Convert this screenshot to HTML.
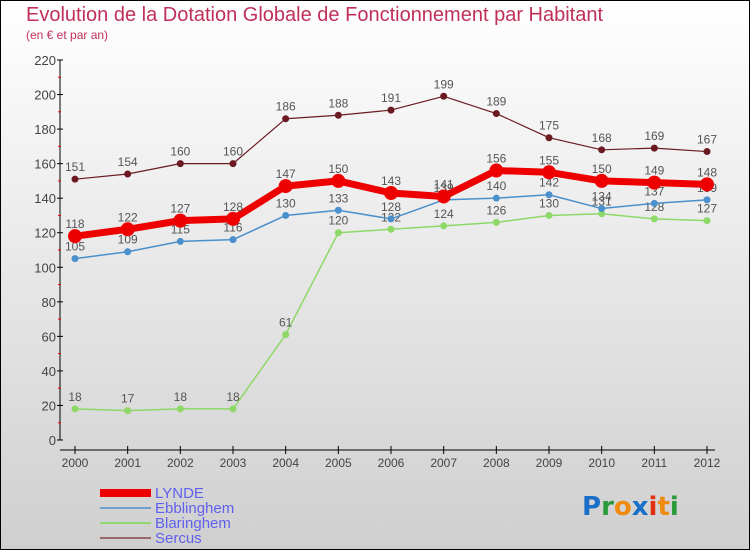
<!DOCTYPE html>
<html><head><meta charset="utf-8"><style>
html,body{margin:0;padding:0}
body{width:750px;height:550px;overflow:hidden;font-family:"Liberation Sans",sans-serif}
#wrap{position:absolute;left:0;top:0;width:748px;height:548px;border:1px solid #000;background:linear-gradient(#ffffff,#cfcfcf)}
</style></head><body>
<div id="wrap">
<svg id="chart" width="750" height="550" style="position:absolute;left:-1px;top:-1px">
<text x="26" y="21" font-size="20" fill="#c0305a">Evolution de la Dotation Globale de Fonctionnement par Habitant</text>
<text x="26" y="39" font-size="12" fill="#c0305a">(en € et par an)</text>
<g id="axes"></g><g id="series"></g>
<g>
<rect x="100" y="489" width="51" height="8" fill="#ee0000"/>
<text x="155" y="498" font-size="15" fill="#6060ee">LYNDE</text>
<rect x="100" y="507" width="51" height="2" fill="#6fa0cc"/>
<text x="155" y="513" font-size="15" fill="#6060ee">Ebblinghem</text>
<rect x="100" y="522" width="51" height="2" fill="#90d870"/>
<text x="155" y="528" font-size="15" fill="#6060ee">Blaringhem</text>
<rect x="100" y="537" width="51" height="2" fill="#9a6a6a"/>
<text x="155" y="543" font-size="15" fill="#6060ee">Sercus</text>
</g>
<g font-size="26" font-weight="bold" font-family="'DejaVu Sans',sans-serif">
<text x="582" y="515"><tspan fill="#1a70c8">P</tspan><tspan fill="#2a9a3a">r</tspan><tspan fill="#f08a10">o</tspan><tspan fill="#1a70c8">x</tspan><tspan fill="#e03010">i</tspan><tspan fill="#f08a10">t</tspan><tspan fill="#2a9a3a">i</tspan></text>
</g>
</svg>
</div>
<script>
const years=[2000,2001,2002,2003,2004,2005,2006,2007,2008,2009,2010,2011,2012];
const yTicks=[0,20,40,60,80,100,120,140,160,180,200,220];
const lynde=[118,122,127,128,147,150,143,141,156,155,150,149,148];
const ebblinghem=[105,109,115,116,130,133,128,139,140,142,134,137,139];
const blaringhem=[18,17,18,18,61,120,122,124,126,130,131,128,127];
const sercus=[151,154,160,160,186,188,191,199,189,175,168,169,167];
const NS="http://www.w3.org/2000/svg";
function X(i){return 75+i*(707-75)/12;}
function Y(v){return 440-v*380/220;}
function mk(t,a,p){const e=document.createElementNS(NS,t);for(const k in a)e.setAttribute(k,a[k]);p.appendChild(e);return e;}
const ax=document.getElementById('axes');
let l=mk('line',{x1:60,y1:Y(220),x2:60,y2:440,stroke:'#000'},ax);


l=mk('line',{x1:60,y1:450,x2:715,y2:450,stroke:'#000'},ax);


yTicks.forEach((v,i)=>{
 mk('line',{x1:57,x2:63,y1:Y(v),y2:Y(v),stroke:'#000'},ax);
 if(i<yTicks.length-1)mk('line',{x1:58,x2:61,y1:Y(v+10),y2:Y(v+10),stroke:'#e00'},ax);
 const t=mk('text',{x:56,y:Y(v)+5,'text-anchor':'end','font-size':13,fill:'#444'},ax);t.textContent=v;
 
 
});
years.forEach((y,i)=>{
 mk('line',{x1:X(i),x2:X(i),y1:446,y2:454,stroke:'#000'},ax);
 const t=mk('text',{x:X(i),y:467,'text-anchor':'middle','font-size':12,fill:'#444'},ax);t.textContent=y;
 
 
});
const sg=document.getElementById('series');
function draw(data,color,w,r,name){
 const g=mk('g',{},sg);
 
 
 mk('polyline',{points:data.map((v,i)=>X(i)+','+Y(v)).join(' '),fill:'none',stroke:color,'stroke-width':w,'stroke-linejoin':'round'},g);
 data.forEach((v,i)=>{
  const c=mk('circle',{cx:X(i),cy:Y(v),r:r,fill:color},g);
  
  
  const t=mk('text',{x:X(i),y:Y(v)-8,'text-anchor':'middle','font-size':12,fill:'#555'},g);t.textContent=v;
  
  
 });
}
draw(sercus,'#6b1a22',1.2,3.5,'sercus');
draw(blaringhem,'#8ed868',1.5,3.5,'blaringhem');
draw(ebblinghem,'#4a90cc',1.5,3.5,'ebblinghem');
draw(lynde,'#ee0000',7,7,'lynde');
</script>
</body></html>
